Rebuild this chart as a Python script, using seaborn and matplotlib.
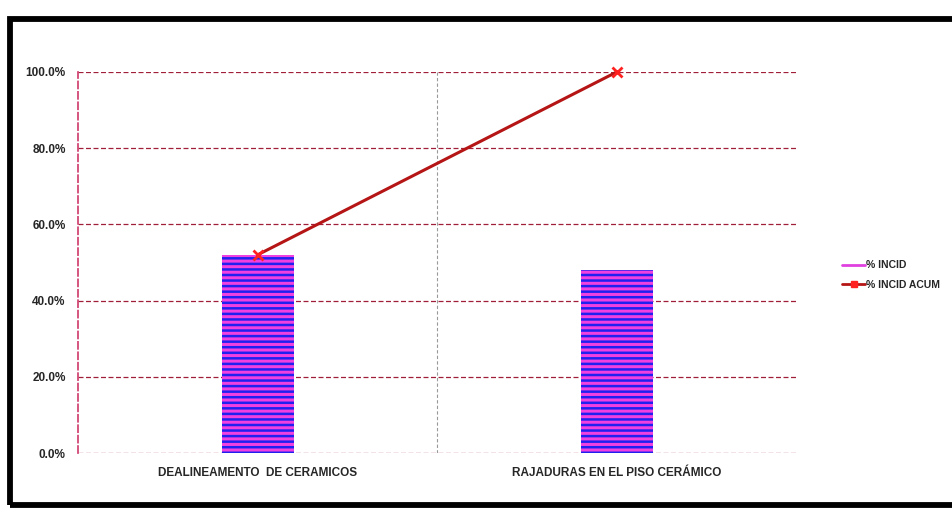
import seaborn as sns
import matplotlib.pyplot as plt
import pandas as pd
from matplotlib.patches import Rectangle
from matplotlib.lines import Line2D
from matplotlib.ticker import PercentFormatter

# datos
categorias = ["DEALINEAMENTO  DE CERAMICOS", "RAJADURAS EN EL PISO CERÁMICO"]
incid = [52.0, 48.0]
incid_acum = [52.0, 100.0]

df = pd.DataFrame({"cat": categorias, "incid": incid, "acum": incid_acum})

sns.set_theme(style="white")
plt.rcParams["font.family"] = ["Liberation Sans", "DejaVu Sans"]
plt.rcParams["hatch.linewidth"] = 1.8

fig = plt.figure(figsize=(9.52, 5.09), dpi=100)
ax = fig.add_axes([0.082, 0.110, 0.755, 0.749])

# barras con franjas
sns.barplot(df, x="cat", y="incid", ax=ax, width=0.2, color="#f040e0",
            edgecolor="#2020f0", linewidth=0, saturation=1)
for p in ax.patches:
    p.set_hatch("---")

# linea acumulada
ax.plot(range(len(categorias)), df["acum"], color="#b51515", lw=2.2,
        marker="x", markersize=7, mew=2, mec="#ff2020", clip_on=False, zorder=5)

ax.set_ylim(0, 100)
ax.set_xlim(-0.5, 1.5)
ax.set_yticks([0, 20, 40, 60, 80, 100])
ax.yaxis.set_major_formatter(PercentFormatter(decimals=1))
ax.set(xlabel="", ylabel="")
ax.grid(axis="y", color="#a0203a", ls=(0, (4, 2)), lw=0.9)
ax.axvline(0.5, color="#999999", ls=(0, (3, 2)), lw=0.8)
ax.set_axisbelow(True)
for s in ["top", "right", "bottom"]:
    ax.spines[s].set_visible(False)
ax.spines["left"].set_color("#d04070")
ax.spines["left"].set_linestyle((0, (4, 2)))
ax.tick_params(axis="y", labelsize=8.5, pad=3)
ax.tick_params(axis="x", labelsize=8.5, pad=4)
for t in ax.get_yticklabels() + ax.get_xticklabels():
    t.set_fontweight("bold")

# leyenda
handles = [Line2D([], [], color="#e040e0", lw=2),
           Line2D([], [], color="#b51515", lw=2, marker="s", markersize=4,
                  mfc="#ff2020", mec="#ff2020")]
fig.legend(handles, ["% INCID", "% INCID ACUM"], loc="center left",
           bbox_to_anchor=(0.875, 0.46), frameon=False, handlelength=2.2,
           handletextpad=0.1, labelspacing=0.9,
           prop={"size": 7.5, "weight": "bold"})

# marco exterior (sale por la derecha)
fig.patches.append(Rectangle((0.0105, 0.007), 1.05, 0.956, transform=fig.transFigure,
                             fill=False, edgecolor="black", lw=4.2))

fig.savefig("out.png", dpi=100)
